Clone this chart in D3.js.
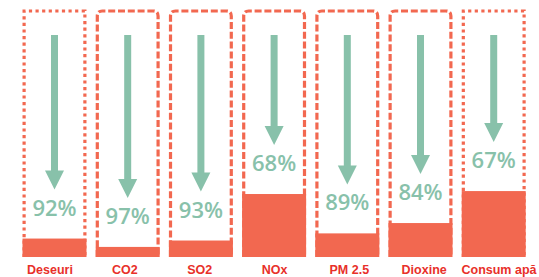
<!DOCTYPE html>
<html>
<head>
<meta charset="utf-8">
<script src="https://cdn.jsdelivr.net/npm/d3@7/dist/d3.min.js"></script>
<style>
  html, body { margin: 0; padding: 0; background: #ffffff; }
  svg { display: block; }
</style>
</head>
<body>
<div id="chart"></div>
<script>
// ---- data ----
const categories = ["Deseuri", "CO2", "SO2", "NOx", "PM 2.5", "Dioxine", "Consum apă"];
const reductionLabels = ["92%", "97%", "93%", "68%", "89%", "84%", "67%"];
// remaining level (bar height, % of full box)
const remainingLevel = [7.5, 4.1, 6.7, 25.6, 9.6, 13.8, 26.8];
// border style of each box
const boxStyles = ["dotted", "dashed", "dashed", "dashed", "dashed", "dashed", "dotted"];

// ---- layout ----
const W = 539, H = 277;
const red = "#f26850", green = "#88c1aa";

const svg = d3.select("#chart").append("svg")
  .attr("width", W).attr("height", H);

const x = d3.scaleBand().domain(categories).range([22.5, 525.7]).paddingInner(0.126).paddingOuter(0);
const y = d3.scaleLinear().domain([0, 100]).range([257, 11]);
const xLabel = d3.scalePoint().domain(categories).range([50, 499]);

const sw = 3.2;
const data = categories.map((c, i) => ({
  cat: c, label: reductionLabels[i], level: remainingLevel[i], style: boxStyles[i]
}));

const g = svg.append("g");

// dashed/dotted boxes
g.selectAll("path.box").data(data).enter().append("path")
  .attr("class", "box")
  .attr("fill", "none")
  .attr("stroke", red)
  .attr("stroke-width", sw)
  .attr("stroke-dasharray", d => d.style === "dotted" ? "3.2,3.4" : "7,2.8")
  .attr("d", d => {
    const l = x(d.cat) + sw / 2, r = x(d.cat) + x.bandwidth() - sw / 2;
    const t = y(100), b = y(0);
    if (d.style === "dotted") {
      return `M${l},${b} L${l},${t} L${r},${t} L${r},${b}`;
    }
    const rr = 5;
    return `M${l},${b} L${l},${t + rr} Q${l},${t} ${l + rr},${t} L${r - rr},${t} Q${r},${t} ${r},${t + rr} L${r},${b}`;
  });

// filled remaining bars
g.selectAll("rect.bar").data(data).enter().append("rect")
  .attr("class", "bar")
  .attr("x", d => x(d.cat))
  .attr("width", x.bandwidth())
  .attr("y", d => y(d.level))
  .attr("height", d => y(0) - y(d.level))
  .attr("fill", red);

// arrows
const shaftTop = 35, shaftW = 7, headW = 19, headH = 19;
const arrows = g.selectAll("g.arrow").data(data).enter().append("g").attr("class", "arrow");
arrows.append("rect")
  .attr("x", d => x(d.cat) + x.bandwidth() / 2 - shaftW / 2)
  .attr("y", shaftTop)
  .attr("width", shaftW)
  .attr("height", d => (y(d.level) - 49 - headH + 1) - shaftTop)
  .attr("fill", green);
arrows.append("path")
  .attr("fill", green)
  .attr("d", d => {
    const cx = x(d.cat) + x.bandwidth() / 2;
    const tip = y(d.level) - 49;
    return `M${cx - headW / 2},${tip - headH} L${cx + headW / 2},${tip - headH} L${cx},${tip} Z`;
  });

// percentage labels
g.selectAll("text.pct").data(data).enter().append("text")
  .attr("class", "pct")
  .attr("x", d => x(d.cat) + x.bandwidth() / 2)
  .attr("y", d => y(d.level) - 23)
  .attr("text-anchor", "middle")
  .attr("font-family", "'Open Sans', sans-serif")
  .attr("font-weight", 600)
  .attr("font-size", 22)
  .attr("fill", green)
  .text(d => d.label);

// category labels
g.selectAll("text.cat").data(data).enter().append("text")
  .attr("class", "cat")
  .attr("x", d => xLabel(d.cat))
  .attr("y", 273.5)
  .attr("text-anchor", "middle")
  .attr("font-family", "'Liberation Sans', Arial, sans-serif")
  .attr("font-weight", 700)
  .attr("font-size", 12.5)
  .attr("fill", "#e8302a")
  .text(d => d.cat);
</script>
</body>
</html>
